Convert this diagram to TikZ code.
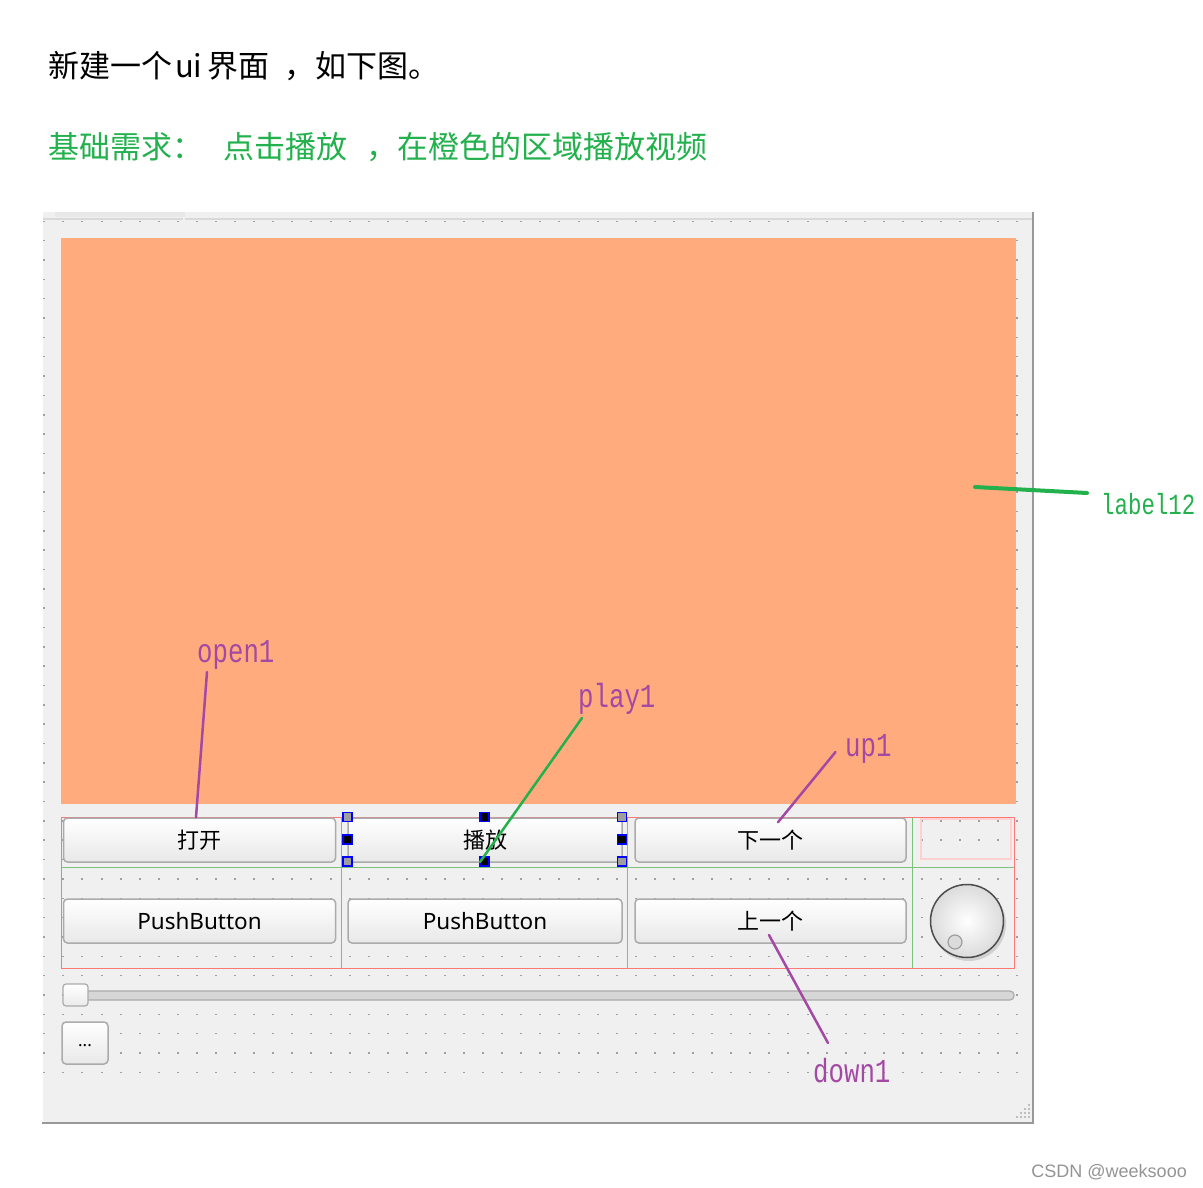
\documentclass[tikz,border=0pt]{standalone}
\usepackage{fontspec}
\usepackage{graphicx}
\newfontfamily\cjk{Noto Sans CJK SC}
\newfontfamily\uifont{Noto Sans}
\newfontfamily\annfont{Liberation Mono}
\newfontfamily\wmfont{Liberation Sans}
\definecolor{panelgray}{HTML}{F0F0F0}
\definecolor{dotgray}{HTML}{A0A0A0}
\definecolor{labelorange}{HTML}{FFAB7E}
\definecolor{paintgreen}{HTML}{22B14C}
\definecolor{paintpurple}{HTML}{A349A4}
\definecolor{layoutred}{HTML}{FF7878}
\definecolor{layoutgreen}{HTML}{7CC27C}
\definecolor{btnborder}{HTML}{ABABAB}
\newcommand{\ann}[2]{\scalebox{0.83}[1.08]{\annfont\fontsize{#1}{#1}\selectfont #2}}
\begin{document}
\begin{tikzpicture}[x=1pt,y=-1pt,
  btn/.style={draw=btnborder,line width=1.5pt,rounded corners=4pt,top color=white,bottom color=black!9,minimum height=44pt,inner sep=0pt},
  cjkbtn/.style={btn,font=\cjk\fontsize{22}{22}\selectfont},
  pushbtn/.style={btn,font=\uifont\fontsize{22.5}{22.5}\selectfont},
  handle/.style={draw=blue,line width=1.5pt,minimum size=9pt,inner sep=0pt},
  annot/.style={inner sep=0pt,anchor=base west},
  annline/.style={line width=2.5pt,line cap=round}]
\useasboundingbox (0,0) rectangle (1203,1188);
\fill[white] (0,0) rectangle (1203,1188);
\node[anchor=west,inner sep=0pt,font=\cjk\fontsize{31}{31}\selectfont] (title) at (48,66) {新建一个\hspace{3pt}ui\hspace{5pt}界面\hspace{15pt}，如下图。};
\node[anchor=west,inner sep=0pt,text=paintgreen,font=\cjk\fontsize{31}{31}\selectfont] (need) at (48,147) {基础需求：\hspace{20pt}点击播放\hspace{19pt}，在橙色的区域播放视频};
\fill[panelgray] (43,212) rectangle (1033,1123);
\fill[black!9] (55,212) rectangle (185,217);
\fill[black!15] (43,217.5) rectangle (183,219.5);
\fill[black!15] (185,217.5) rectangle (1032,219.5);
\draw[black!40,line width=1.5pt] (1033,212) -- (1033,1123);
\draw[black!40,line width=1.5pt] (42,1123) -- (1034,1123);
\foreach \i in {0,...,51}
  \foreach \j in {0,...,44}
    \fill[dotgray] ({43.3+19.08*\i},{220.6+19.34*\j}) rectangle ++(2,1.5);
\foreach \gx/\gy in {1028/1104,1024/1108,1028/1108,1020/1112,1024/1112,1028/1112,1016/1116,1020/1116,1024/1116,1028/1116}
  \fill[black!25] (\gx,\gy) rectangle ++(1.5,1.5);
\fill[labelorange] (61,238) rectangle (1016,804);
\draw[layoutgreen] (61,867) -- (1014,867);
\foreach \vx in {341,627.5,912}
  \draw[layoutgreen] (\vx,817) -- (\vx,968);
\draw[layoutred] (61,817) rectangle (1014.5,968);
\draw[layoutred!35,line width=1.5pt] (921,819) rectangle (1011,859);
\node[cjkbtn,minimum width=272pt] (btnOpen) at (199.5,840) {打开};
\node[cjkbtn,minimum width=274pt] (btnPlay) at (485,840) {播放};
\node[cjkbtn,minimum width=271pt] (btnNext) at (770.5,840) {下一个};
\node[pushbtn,minimum width=272pt] (btnPushA) at (199.5,921) {PushButton};
\node[pushbtn,minimum width=274pt] (btnPushB) at (485,921) {PushButton};
\node[cjkbtn,minimum width=271pt] (btnPrev) at (770.5,921) {上一个};
\foreach \hx/\hy/\hc [count=\k] in {347.3/817/black!38,484.3/817/black,622/817/black!38,347.3/839.3/black,622/839.3/black,347.3/861.7/black!38,484.3/861.7/black,622/861.7/black!38}
  \node[handle,fill=\hc] (hdl\k) at (\hx,\hy) {};
\fill[black!18] (969,924) circle (37);
\node[circle,draw=black!70,line width=1.5pt,minimum size=73pt,inner sep=0pt,inner color=white,outer color=black!14] (dial) at (967,921) {};
\draw[black!38,fill=black!14,line width=1.2pt] (955,942) circle (7);
\draw[btnborder,fill=black!16,line width=1.2pt,rounded corners=4pt] (65,991) rectangle (1014,1000);
\draw[btnborder,line width=1.2pt,top color=white,bottom color=black!8,rounded corners=3pt] (63,984) rectangle (88,1006);
\node[btn,minimum width=46pt,minimum height=42pt] (btnMore) at (85,1043) {};
\node[font=\uifont\bfseries\fontsize{17}{17}\selectfont,inner sep=0pt,yshift=-3pt] (moreText) at (btnMore.center) {...};
\node[annot,text=paintgreen] (labelTag) at (1101,514) {\ann{27}{label12}};
\node[annot,text=paintpurple] (openTag) at (197,662) {\ann{31}{open1}};
\node[annot,text=paintpurple] (playTag) at (578,707) {\ann{31}{play1}};
\node[annot,text=paintpurple] (upTag) at (845,756) {\ann{31}{up1}};
\node[annot,text=paintpurple] (downTag) at (813,1082) {\ann{31}{down1}};
\coordinate (labelFrom) at (1087,493);
\coordinate (labelTo) at (975,487);
\coordinate (openFrom) at (207,672);
\coordinate (playFrom) at (582,718);
\coordinate (playTo) at (480,862);
\coordinate (upFrom) at (835.5,752);
\coordinate (downTo) at (828,1043);
\draw[paintgreen,line width=4pt,line cap=round] (labelFrom) -- (labelTo);
\draw[annline,paintpurple] (openFrom) -- ([xshift=-3.5pt]btnOpen.north);
\draw[annline,paintgreen] (playFrom) -- (playTo);
\draw[annline,paintpurple] (upFrom) -- ([xshift=7.5pt,yshift=-5pt]btnNext.north);
\draw[annline,paintpurple] ([xshift=-1.5pt,yshift=-14pt]btnPrev.center) -- (downTo);
\node[anchor=base east,inner sep=0pt,text=black!42,font=\wmfont\fontsize{18}{18}\selectfont] (mark) at (1187,1177) {CSDN @weeksooo};
\end{tikzpicture}
\end{document}
